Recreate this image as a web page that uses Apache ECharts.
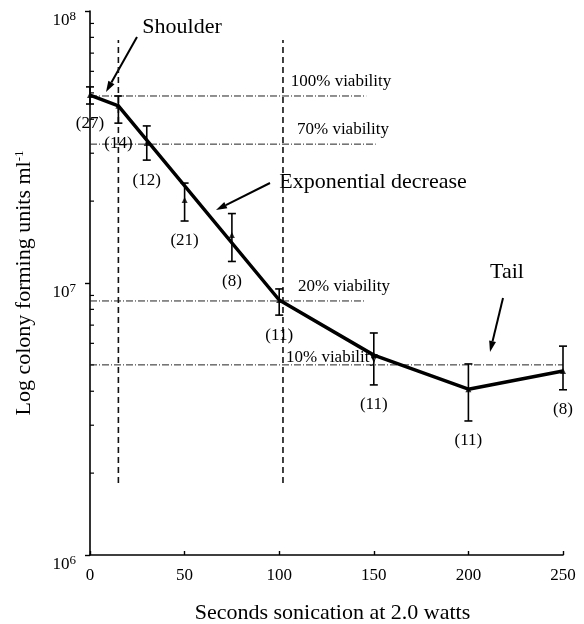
<!DOCTYPE html>
<html>
<head>
<meta charset="utf-8">
<script src="https://cdn.jsdelivr.net/npm/echarts@6/dist/echarts.min.js"></script>
<style>html,body{margin:0;padding:0;background:#fff}#chart{width:584px;height:624px}</style>
</head>
<body>
<div id="chart"></div>
<script>
// thick fitted curve
const curveX = [0, 15, 100, 150, 200, 250]
const curveY = [4.91e7, 4.48e7, 8.66e6, 5.43e6, 4.07e6, 4.75e6]

// measured points: mean, error bar low / high, sample size
const ptX = [0, 15, 30, 50, 75, 100, 150, 200, 250]
const ptMean = [4.91e7, 4.48e7, 3.27e7, 2.02e7, 1.50e7, 8.66e6, 5.43e6, 4.07e6, 4.75e6]
const ptLow = [4.55e7, 3.87e7, 2.83e7, 1.69e7, 1.20e7, 7.62e6, 4.22e6, 3.11e6, 4.05e6]
const ptHigh = [5.26e7, 4.87e7, 3.78e7, 2.33e7, 1.80e7, 9.51e6, 6.55e6, 5.04e6, 5.86e6]
const ptN = [27, 14, 12, 21, 8, 11, 11, 11, 8]

// viability reference lines
const viabLabels = ['100% viability', '70% viability', '20% viability', '10% viability']
const viabY = [4.87e7, 3.24e7, 8.59e6, 5.0e6]
const viabEndX = [146, 151, 145, 250]

// vertical dashed markers
const vLineX = [15, 102]
const vLineRange = [1.84e6, 7.82e7]

const FONT = "'Liberation Serif', 'Times New Roman', serif"

const minorVals = []
for (const dec of [1e6, 1e7]) for (let k = 2; k <= 9; k++) minorVals.push([0, k * dec])

const chart = echarts.init(document.getElementById('chart'))

function arrow(x1, y1, x2, y2) {
  const a = Math.atan2(y2 - y1, x2 - x1), L = 11, W = 3.5
  const bx = x2 - L * Math.cos(a), by = y2 - L * Math.sin(a)
  return [
    { type: 'line', shape: { x1, y1, x2: bx, y2: by }, style: { stroke: '#000', lineWidth: 2 } },
    { type: 'polygon', shape: { points: [[x2, y2],
      [bx + W * Math.sin(a), by - W * Math.cos(a)], [bx - W * Math.sin(a), by + W * Math.cos(a)]] },
      style: { fill: '#000' } }
  ]
}
function txt(text, x, y, size) {
  return { type: 'text', x, y, style: { text, font: size + 'px ' + FONT, fill: '#000', align: 'center', verticalAlign: 'middle' } }
}

const series = []
viabY.forEach((v, i) => series.push({
  type: 'line', data: [[0, v], [viabEndX[i], v]], symbol: 'none', silent: true,
  lineStyle: { color: '#222', width: 1, type: [7, 2, 1, 2] }
}))
vLineX.forEach(x => series.push({
  type: 'line', data: [[x, vLineRange[0]], [x, vLineRange[1]]], symbol: 'none', silent: true,
  lineStyle: { color: '#111', width: 1.6, type: [6, 4] }
}))
series.push({
  type: 'line', data: curveX.map((x, i) => [x, curveY[i]]), symbol: 'none', z: 5,
  lineStyle: { color: '#000', width: 3.5 }
})
series.push({
  type: 'custom', z: 6,
  data: ptX.map((x, i) => [x, ptLow[i], ptHigh[i], ptN[i]]),
  renderItem: (params, api) => {
    const lo = api.coord([api.value(0), api.value(1)])
    const hi = api.coord([api.value(0), api.value(2)])
    const c = 4, st = { stroke: '#000', lineWidth: 1.6 }
    return { type: 'group', children: [
      { type: 'line', shape: { x1: lo[0], y1: lo[1], x2: hi[0], y2: hi[1] }, style: st },
      { type: 'line', shape: { x1: lo[0] - c, y1: lo[1], x2: lo[0] + c, y2: lo[1] }, style: st },
      { type: 'line', shape: { x1: hi[0] - c, y1: hi[1], x2: hi[0] + c, y2: hi[1] }, style: st },
      { type: 'text', x: lo[0], y: lo[1] + 20, style: { text: '(' + api.value(3) + ')',
        font: '17px ' + FONT, fill: '#000', align: 'center', verticalAlign: 'middle' } }
    ] }
  }
})
series.push({
  type: 'scatter', data: ptX.map((x, i) => [x, ptMean[i]]), symbol: 'triangle', symbolSize: 6,
  itemStyle: { color: '#000' }, z: 6
})
series.push({
  type: 'custom', silent: true, clip: false, data: minorVals,
  renderItem: (params, api) => {
    const p = api.coord([api.value(0), api.value(1)])
    return { type: 'line', shape: { x1: p[0], y1: p[1], x2: p[0] + 4, y2: p[1] }, style: { stroke: '#000', lineWidth: 1.2 } }
  }
})

chart.setOption({
  animation: false,
  backgroundColor: '#fff',
  textStyle: { fontFamily: FONT },
  grid: { left: 90, right: 21, top: 11, bottom: 69, containLabel: false, outerBoundsMode: 'none' },
  xAxis: {
    type: 'value', min: 0, max: 250, interval: 50,
    name: 'Seconds sonication at 2.0 watts', nameLocation: 'middle', nameGap: 47,
    nameTextStyle: { fontSize: 22, color: '#000', fontFamily: FONT, padding: [0, 0, 0, 12] },
    axisLine: { lineStyle: { color: '#000', width: 1.6 } },
    axisTick: { inside: true, length: 4, lineStyle: { color: '#000', width: 1.4 } },
    axisLabel: { fontSize: 17, color: '#000', margin: 12, fontFamily: FONT },
    splitLine: { show: false }
  },
  yAxis: {
    type: 'log', logBase: 10, min: 1e6, max: 1e8, interval: 1,
    name: '{a|Log colony forming units ml}{s|-1}', nameLocation: 'middle', nameGap: 54, nameRotate: 90,
    nameTextStyle: { color: '#000', rich: {
      a: { fontSize: 22, fontFamily: FONT, color: '#000' },
      s: { fontSize: 13, fontFamily: FONT, color: '#000', padding: [0, 0, 10, 0] }
    } },
    axisLine: { show: true, lineStyle: { color: '#000', width: 1.6 } },
    axisTick: { show: true, length: 5, lineStyle: { color: '#000', width: 1.4 } },
    axisLabel: {
      margin: 14, padding: [20, 0, 0, 0],
      formatter: v => '{b|10}{s|' + Math.round(Math.log10(v)) + '}',
      rich: {
        b: { fontSize: 17, fontFamily: FONT, color: '#000' },
        s: { fontSize: 13, fontFamily: FONT, color: '#000', padding: [0, 0, 9, 0] }
      }
    },
    splitLine: { show: false }
  },
  graphic: [
    txt('Shoulder', 182, 27, 22),
    ...arrow(137, 37, 106, 92),
    txt('Exponential decrease', 373, 182, 22),
    ...arrow(270, 183, 216, 210),
    txt('Tail', 507, 272, 22),
    ...arrow(503, 298, 490, 352),
    txt(viabLabels[0], 341, 82, 17),
    txt(viabLabels[1], 343, 130, 17),
    txt(viabLabels[2], 344, 287, 17),
    txt(viabLabels[3], 332, 358, 17)
  ],
  series
})
</script>
</body>
</html>
